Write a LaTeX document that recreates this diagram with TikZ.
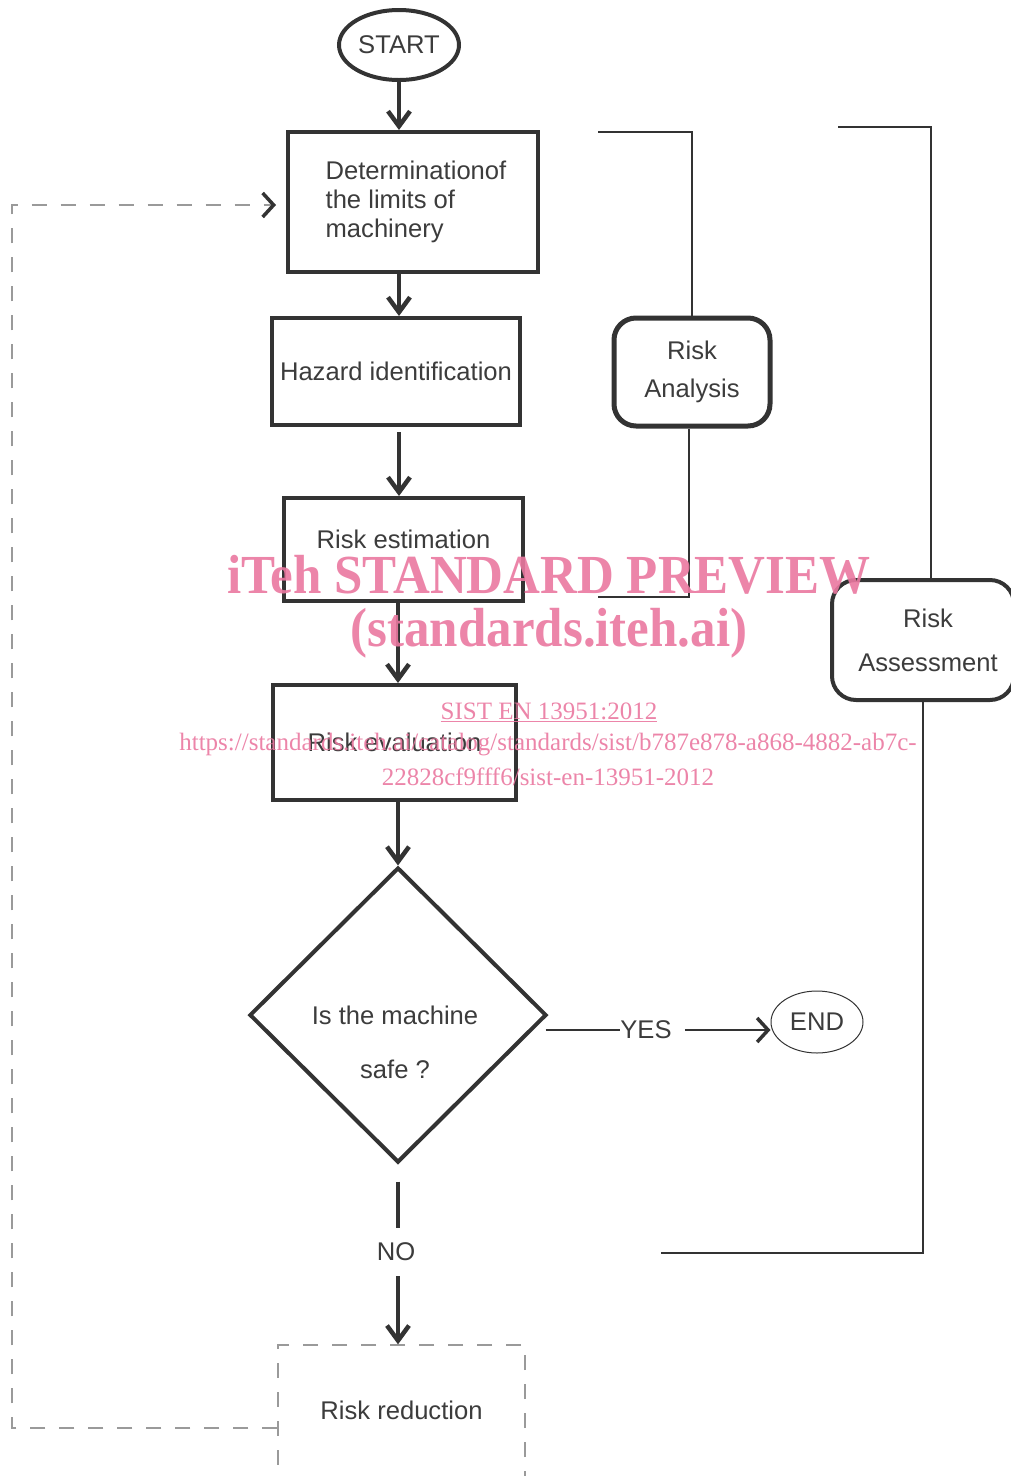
\documentclass[tikz,border=0pt]{standalone}
\usepackage{fontspec}
\setmainfont{Liberation Sans}
\newfontfamily\wmfont{Liberation Serif}
\usetikzlibrary{shapes.geometric,arrows.meta}
\definecolor{dark}{HTML}{333333}
\definecolor{txtgray}{HTML}{3C3C3C}
\definecolor{dashgray}{HTML}{9A9A9A}
\definecolor{wmpink}{RGB}{234,120,160}
\tikzset{
  x=1pt,y=-1pt,
  every node/.style={font=\fontsize{25.6}{29}\selectfont, text=txtgray},
  mainbox/.style={draw=dark, line width=4pt, rectangle, inner sep=0pt},
  rbox/.style={draw=dark, rectangle, rounded corners=24pt, inner sep=0pt, align=center},
  arr/.style={draw=dark, line width=4pt, -{Straight Barb[length=15pt,width=22pt,line width=4.5pt]}},
  thickln/.style={draw=dark, line width=4pt},
  brk/.style={draw=dark, line width=2.5pt},
  fb/.style={draw=dashgray, line width=1.3pt, dash pattern=on 15pt off 14pt,
     -{Straight Barb[length=11pt,width=24pt,line width=3.5pt,color=dark]}},
  wm/.style={text=wmpink, opacity=0.9, inner sep=0pt}
}
\begin{document}
\begin{tikzpicture}
\useasboundingbox (0,0) rectangle (1010,1476);

% main flow nodes
\node[draw=dark, line width=4pt, ellipse, minimum width=120pt, minimum height=70pt, inner sep=0pt] (start) at (399,45) {START};
\node[mainbox, minimum width=250pt, minimum height=140pt, align=left, font=\fontsize{25.6}{29}\selectfont] (det) at (413,202) {\hspace*{6pt}Determinationof\\ \hspace*{6pt}the limits of\\ \hspace*{6pt}machinery};
\node[mainbox, minimum width=248pt, minimum height=107pt] (haz) at (396,371.5) {Hazard identification};
\node[mainbox, minimum width=239pt, minimum height=103pt, text depth=20pt] (est) at (403.5,549.5) {Risk estimation};
\node[mainbox, minimum width=243pt, minimum height=115pt] (eval) at (394.5,742.5) {Risk evaluation};
\node[draw=dark, line width=4pt, diamond, minimum width=297pt, minimum height=295pt, inner sep=0pt] (safe) at (398,1015) {};
\node[align=center, inner sep=0pt] (safetxt) at (395,1042) {Is the machine\\[25pt]safe ?};
\node[inner xsep=0pt] (yes) at (646,1030) {YES};
\node[draw=dark, line width=1pt, ellipse, minimum width=92pt, minimum height=62pt, inner sep=0pt] (end) at (817,1022) {END};
\node[inner xsep=0pt, inner ysep=15pt] (no) at (396,1252) {NO};
\node[draw=dashgray, line width=1.3pt, dash pattern=on 15pt off 14pt, rectangle, minimum width=247pt,
      inner ysep=0pt, text height=74pt, text depth=81pt] (rr) at (401.5,1422.5) {Risk reduction};

% connectors of the main flow
\draw[arr] (start.south) -- (start.south |- det.north);
\draw[arr] (det.south -| start.south) -- (haz.north -| start.south);
\draw[arr] ([yshift=-5pt]haz.south -| start.south) -- (est.north -| start.south);
\draw[arr] (est.south -| safe.north) -- (eval.north -| safe.north);
\draw[arr] (eval.south -| safe.north) -- (safe.north);
\draw[thickln] ([yshift=-17pt]safe.south) -- (no.north -| safe.south);
\draw[arr] (no.south -| safe.south) -- (rr.north -| safe.south);
\draw[draw=dark, line width=2pt] ([xshift=-3pt]safe.east |- yes.west) -- (yes.west);
\draw[draw=dark, line width=2pt, -{Straight Barb[length=11pt,width=24pt,line width=3.5pt]}] ([xshift=13pt]yes.east) -- (end.west |- yes.east);

% feedback dashed loop
\coordinate (fbl) at (12,1428);
\coordinate (fbt) at (12,205);
\draw[fb, shorten >=10pt] (rr.west |- fbl) -- (fbl) -- (fbt) -- (det.west |- fbt);

% risk analysis bracket
\node[rbox, line width=5pt, minimum width=156pt, minimum height=108pt, rounded corners=22pt, font=\fontsize{25.6}{38}\selectfont] (ra) at (692,372) {Risk\\Analysis};
\coordinate (ra1) at (598,132);
\coordinate (ra2) at (598,597);
\draw[brk] (ra1) -- (ra.north |- ra1) -- (ra.north);
\draw[brk] ([xshift=-3pt]ra.south) -- ([xshift=-3pt]ra.south |- ra2) -- (ra2);

% risk assessment bracket
\node[rbox, line width=4pt, minimum width=182pt, minimum height=120pt, font=\fontsize{25.6}{44}\selectfont] (rass) at (923,640) {\hspace*{10pt}Risk\\\hspace*{10pt}Assessment};
\coordinate (rs1) at (838,127);
\coordinate (rs2) at (661,1253);
\draw[brk] (rs1) -- ([xshift=8pt]rass.north |- rs1) -- ([xshift=8pt]rass.north);
\draw[brk] (rass.south) -- (rass.south |- rs2) -- (rs2);

% watermark
\node[wm, font=\wmfont\bfseries\fontsize{51}{56}\selectfont, yscale=1.08] (wm1) at (549,575) {iTeh STANDARD PREVIEW};
\node[wm, font=\wmfont\bfseries\fontsize{51}{56}\selectfont, yscale=1.08] (wm2) at (549,633) {(standards.iteh.ai)};
\node[wm, font=\wmfont\fontsize{25}{28}\selectfont] (wm3) at (549,712) {\underline{SIST EN 13951:2012}};
\node[wm, font=\wmfont\fontsize{25}{28}\selectfont] (wm4) at (548,745) {https://standards.iteh.ai/catalog/standards/sist/b787e878-a868-4882-ab7c-};
\node[wm, font=\wmfont\fontsize{25}{28}\selectfont] (wm5) at (548,777) {22828cf9fff6/sist-en-13951-2012};
\end{tikzpicture}
\end{document}
